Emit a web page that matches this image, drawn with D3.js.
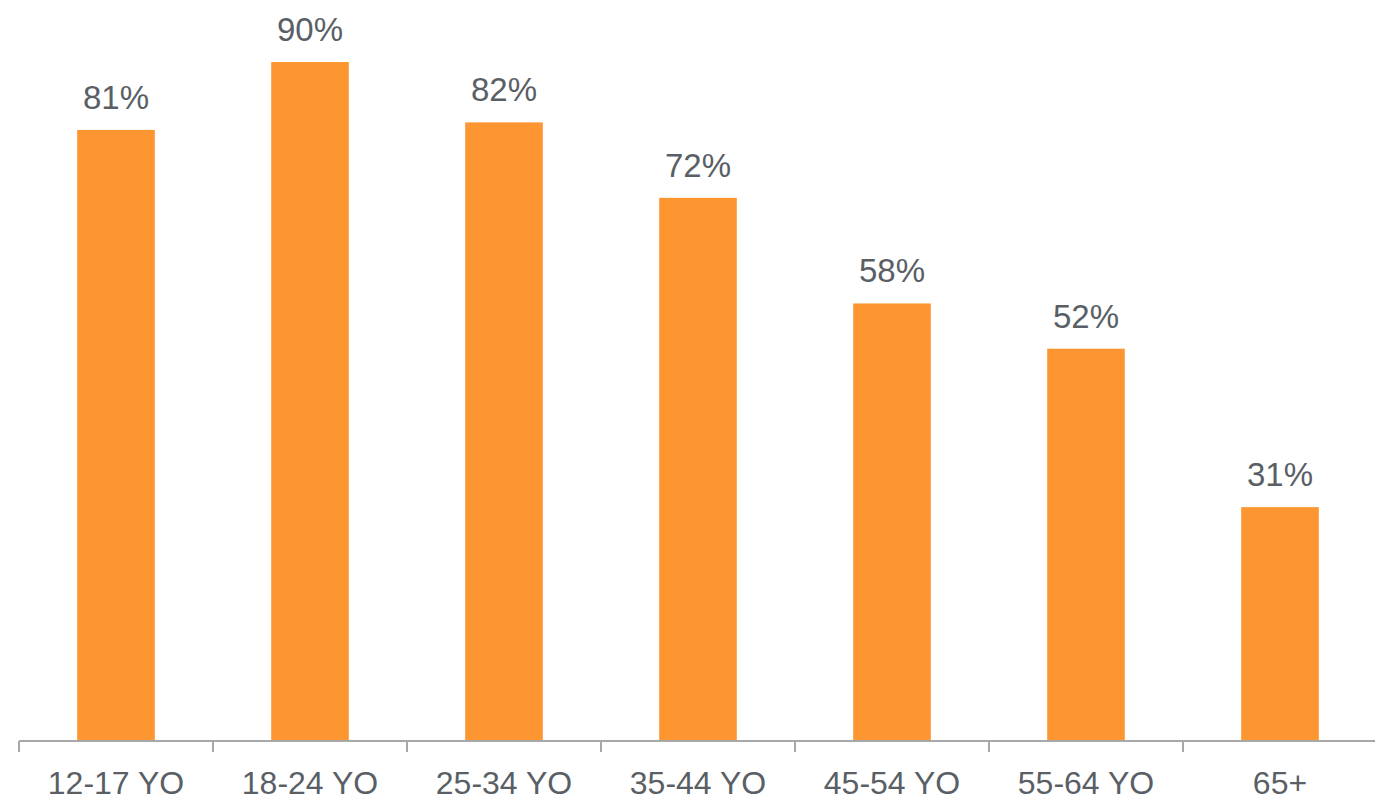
<!DOCTYPE html>
<html>
<head>
<meta charset="utf-8">
<script src="https://cdn.jsdelivr.net/npm/d3@7"></script>
<style>
  body { margin: 0; background: #fff; }
  text { font-family: "Liberation Sans", Arial, sans-serif; fill: #5a5f66; }
</style>
</head>
<body>
<div id="chart"></div>
<script>
// Дані діаграми
const categories = ["12-17 YO", "18-24 YO", "25-34 YO", "35-44 YO", "45-54 YO", "55-64 YO", "65+"];
const values = [81, 90, 82, 72, 58, 52, 31];

const width = 1375;
const height = 802;
const margin = { top: 0, right: -2, bottom: 61, left: 19 };

const svg = d3.select("#chart")
  .append("svg")
  .attr("width", width)
  .attr("height", height);

// Шкали
const x = d3.scaleBand()
  .domain(categories)
  .range([margin.left, width - margin.right])
  .padding(0);

const y = d3.scaleLinear()
  .domain([0, 100])
  .range([height - margin.bottom, -13.4]);

const barW = x.bandwidth() * 0.4;

// Стовпчики
svg.selectAll(".bar")
  .data(values)
  .enter().append("rect")
  .attr("class", "bar")
  .attr("x", (d, i) => x(categories[i]) + (x.bandwidth() - barW) / 2)
  .attr("y", d => y(d))
  .attr("width", barW)
  .attr("height", d => y(0) - y(d))
  .attr("fill", "#fd9530");

// Підписи значень
svg.selectAll(".value-label")
  .data(values)
  .enter().append("text")
  .attr("class", "value-label")
  .attr("x", (d, i) => x(categories[i]) + x.bandwidth() / 2)
  .attr("y", d => y(d) - 21)
  .attr("text-anchor", "middle")
  .style("font-size", "33px")
  .text(d => d + "%");

// Вісь X: лінія та поділки між категоріями
const axis = svg.append("g")
  .attr("transform", `translate(0,${y(0)})`);

axis.append("line")
  .attr("x1", margin.left)
  .attr("x2", width)
  .attr("stroke", "#a8a8a8")
  .attr("stroke-width", 2);

axis.selectAll(".tick-line")
  .data(categories)
  .enter().append("line")
  .attr("class", "tick-line")
  .attr("x1", d => x(d))
  .attr("x2", d => x(d))
  .attr("y1", 0)
  .attr("y2", 11)
  .attr("stroke", "#a8a8a8")
  .attr("stroke-width", 2);

axis.selectAll(".cat-label")
  .data(categories)
  .enter().append("text")
  .attr("class", "cat-label")
  .attr("x", d => x(d) + x.bandwidth() / 2)
  .attr("y", 53)
  .attr("text-anchor", "middle")
  .style("font-size", "32px")
  .text(d => d);
</script>
</body>
</html>
